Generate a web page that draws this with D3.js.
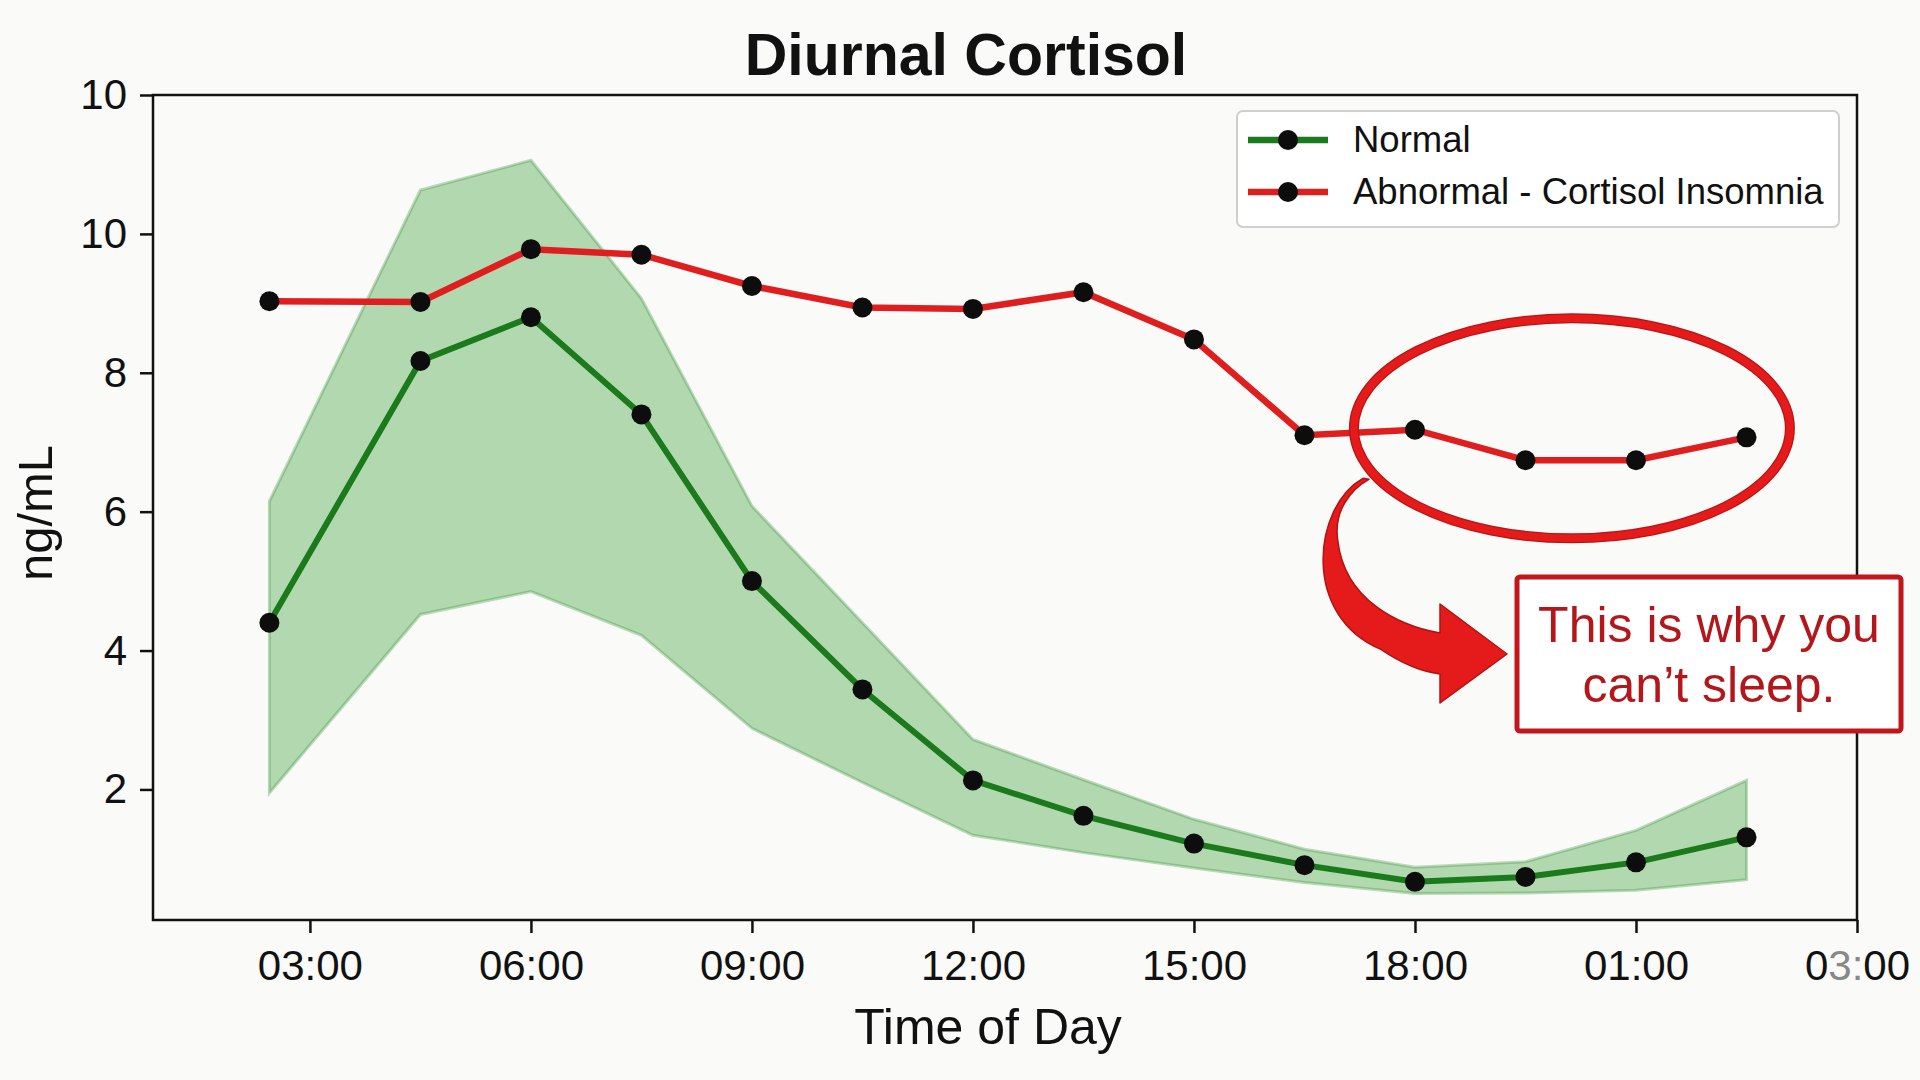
<!DOCTYPE html>
<html>
<head>
<meta charset="utf-8">
<script src="https://cdn.jsdelivr.net/npm/d3@7"></script>
<style>
  html, body { margin: 0; padding: 0; background: #fafaf8; }
  svg { display: block; font-family: "Liberation Sans", Arial, sans-serif; }
</style>
</head>
<body>
<script>
const hours = [2.45, 4.5, 6, 7.5, 9, 10.5, 12, 13.5, 15, 16.5, 18, 19.5, 21, 22.5];
const normal = [4.40, 8.17, 8.80, 7.40, 5.00, 3.44, 2.13, 1.62, 1.22, 0.91, 0.67, 0.74, 0.95, 1.31];
const normalHigh = [6.15, 10.63, 11.06, 9.07, 6.08, 4.40, 2.72, 2.14, 1.57, 1.14, 0.88, 0.96, 1.41, 2.13];
const normalLow = [1.95, 4.52, 4.85, 4.22, 2.88, 2.10, 1.34, 1.09, 0.87, 0.66, 0.50, 0.51, 0.55, 0.70];
const abnormal = [9.03, 9.02, 9.78, 9.70, 9.25, 8.94, 8.92, 9.16, 8.48, 7.10, 7.18, 6.74, 6.74, 7.07];

const xTickValues = [3, 6, 9, 12, 15, 18, 21, 24];
const xTickLabels = ["03:00", "06:00", "09:00", "12:00", "15:00", "18:00", "01:00", "03:00"];
const yTickValues = [2, 4, 6, 8, 10, 12];
const yTickLabels = ["2", "4", "6", "8", "10", "10"];

const seriesNames = ["Normal", "Abnormal - Cortisol Insomnia"];
const calloutLines = ["This is why you", "can\u2019t sleep."];

const width = 1920;
const height = 1080;
const marginTop = 95;
const marginRight = 63;
const marginBottom = 160;
const marginLeft = 153;

const green = "#1b7a1b";
const red = "#df1f1f";

const x = d3.scaleLinear()
    .domain([0.87, 24])
    .range([marginLeft, width - marginRight]);

const y = d3.scaleLinear()
    .domain([0.12, 12])
    .range([height - marginBottom, marginTop]);

const svg = d3.select("body")
  .append("svg")
    .attr("width", width)
    .attr("height", height)
    .attr("viewBox", [0, 0, width, height]);

const rows = hours.map((h, i) => ({
  h, normal: normal[i], hi: normalHigh[i], lo: normalLow[i], abnormal: abnormal[i]
}));

// Shaded normal range
svg.append("path")
    .datum(rows)
    .attr("fill", "#2e9a2e")
    .attr("fill-opacity", 0.36)
    .attr("stroke", "#2e8a2e")
    .attr("stroke-opacity", 0.3)
    .attr("stroke-width", 3)
    .attr("d", d3.area()
      .x(d => x(d.h))
      .y0(d => y(d.lo))
      .y1(d => y(d.hi)));

// Lines
const line = key => d3.line().x(d => x(d.h)).y(d => y(d[key]));

svg.append("path")
    .datum(rows)
    .attr("fill", "none")
    .attr("stroke", green)
    .attr("stroke-width", 6)
    .attr("d", line("normal"));

svg.append("path")
    .datum(rows)
    .attr("fill", "none")
    .attr("stroke", red)
    .attr("stroke-width", 6.5)
    .attr("d", line("abnormal"));

// Markers
for (const key of ["normal", "abnormal"]) {
  svg.append("g")
      .attr("fill", "#0d0d0d")
    .selectAll("circle")
    .data(rows)
    .join("circle")
      .attr("cx", d => x(d.h))
      .attr("cy", d => y(d[key]))
      .attr("r", 10);
}

// Frame
svg.append("rect")
    .attr("x", marginLeft)
    .attr("y", marginTop)
    .attr("width", width - marginLeft - marginRight)
    .attr("height", height - marginTop - marginBottom)
    .attr("fill", "none")
    .attr("stroke", "#111")
    .attr("stroke-width", 2.5);

// Axes
svg.append("g")
    .attr("transform", `translate(0,${height - marginBottom})`)
    .call(d3.axisBottom(x)
      .tickValues(xTickValues)
      .tickFormat((d, i) => xTickLabels[i])
      .tickSize(13)
      .tickPadding(17))
    .call(g => g.select(".domain").remove())
    .call(g => g.selectAll(".tick line").attr("stroke", "#111").attr("stroke-width", 2.5))
    .call(g => g.selectAll(".tick text")
      .attr("fill", "#111")
      .attr("font-size", 42)
      .attr("font-family", "Liberation Sans, Arial, sans-serif"));

// last label has a faded "3:" in the picture
svg.selectAll(".tick text").filter((d, i, n) => d === 24 && n.length === xTickValues.length)
    .text(null)
    .call(t => {
      t.append("tspan").text("0");
      t.append("tspan").attr("fill", "#888").text("3:");
      t.append("tspan").text("00");
    });

svg.append("g")
    .attr("transform", `translate(${marginLeft},0)`)
    .call(d3.axisLeft(y)
      .tickValues(yTickValues)
      .tickFormat((d, i) => yTickLabels[i])
      .tickSize(13)
      .tickPadding(13))
    .call(g => g.select(".domain").remove())
    .call(g => g.selectAll(".tick line").attr("stroke", "#111").attr("stroke-width", 2.5))
    .call(g => g.selectAll(".tick text")
      .attr("fill", "#111")
      .attr("font-size", 42)
      .attr("font-family", "Liberation Sans, Arial, sans-serif"));

// Titles
svg.append("text")
    .attr("x", 966)
    .attr("y", 75)
    .attr("text-anchor", "middle")
    .attr("font-size", 59)
    .attr("font-weight", "bold")
    .attr("fill", "#111")
    .text("Diurnal Cortisol");

svg.append("text")
    .attr("x", 988)
    .attr("y", 1044)
    .attr("text-anchor", "middle")
    .attr("font-size", 50)
    .attr("fill", "#111")
    .text("Time of Day");

svg.append("text")
    .attr("transform", "translate(52,513) rotate(-90)")
    .attr("text-anchor", "middle")
    .attr("font-size", 49)
    .attr("fill", "#111")
    .text("ng/mL");

// Legend
const legend = svg.append("g").attr("transform", "translate(1237,111)");
legend.append("rect")
    .attr("width", 602)
    .attr("height", 116)
    .attr("rx", 6)
    .attr("fill", "#fff")
    .attr("stroke", "#cfcfcf")
    .attr("stroke-width", 2);

const item = legend.selectAll("g.item")
  .data(seriesNames)
  .join("g")
    .attr("class", "item")
    .attr("transform", (d, i) => `translate(0,${29 + i * 52})`);

item.append("line")
    .attr("x1", 11).attr("x2", 91)
    .attr("stroke", (d, i) => i === 0 ? green : red)
    .attr("stroke-width", 6.5);
item.append("circle")
    .attr("cx", 51)
    .attr("r", 10)
    .attr("fill", "#0d0d0d");
item.append("text")
    .attr("x", 116)
    .attr("y", 12)
    .attr("font-size", 36.5)
    .attr("fill", "#111")
    .text(d => d);

// Callout: ellipse around the late-day abnormal values, arrow and note
const cx = x(20.13);
const cy = y(7.2);
svg.append("ellipse")
    .attr("cx", cx)
    .attr("cy", cy)
    .attr("rx", 218)
    .attr("ry", 110)
    .attr("fill", "none")
    .attr("stroke", "#b81414")
    .attr("stroke-width", 10);
svg.append("ellipse")
    .attr("cx", cx)
    .attr("cy", cy)
    .attr("rx", 218)
    .attr("ry", 110)
    .attr("fill", "none")
    .attr("stroke", "#e51b1b")
    .attr("stroke-width", 7.5);

const boxX = 1517, boxY = 577, boxW = 384, boxH = 154;
const tipX = boxX - 10, tipY = boxY + boxH / 2;

const arrow = d3.path();
arrow.moveTo(cx - 209, cy + 50);
arrow.bezierCurveTo(cx - 259, cy + 78, cx - 271, cy + 188, cx - 191, cy + 221);
arrow.quadraticCurveTo(cx - 160, cy + 242, tipX - 67, tipY + 20);
arrow.lineTo(tipX - 67, tipY + 49);
arrow.lineTo(tipX, tipY);
arrow.lineTo(tipX - 67, tipY - 50);
arrow.lineTo(tipX - 67, tipY - 21);
arrow.bezierCurveTo(tipX - 107, tipY - 28, tipX - 162, tipY - 53, cx - 234, cy + 113);
arrow.bezierCurveTo(cx - 239, cy + 83, cx - 221, cy + 61, cx - 203, cy + 51);
arrow.closePath();

svg.append("path")
    .attr("d", arrow.toString())
    .attr("fill", "#e51b1b")
    .attr("stroke", "#b01212")
    .attr("stroke-width", 1.5)
    .attr("stroke-linejoin", "round");

svg.append("rect")
    .attr("x", boxX)
    .attr("y", boxY)
    .attr("width", boxW)
    .attr("height", boxH)
    .attr("rx", 3)
    .attr("fill", "#fff")
    .attr("stroke", "#c1161c")
    .attr("stroke-width", 5);

svg.append("g")
    .attr("fill", "#b3171c")
    .attr("font-size", 50)
    .attr("text-anchor", "middle")
  .selectAll("text")
  .data(calloutLines)
  .join("text")
    .attr("x", boxX + boxW / 2)
    .attr("y", (d, i) => boxY + 65 + i * 60)
    .text(d => d);
</script>
</body>
</html>
